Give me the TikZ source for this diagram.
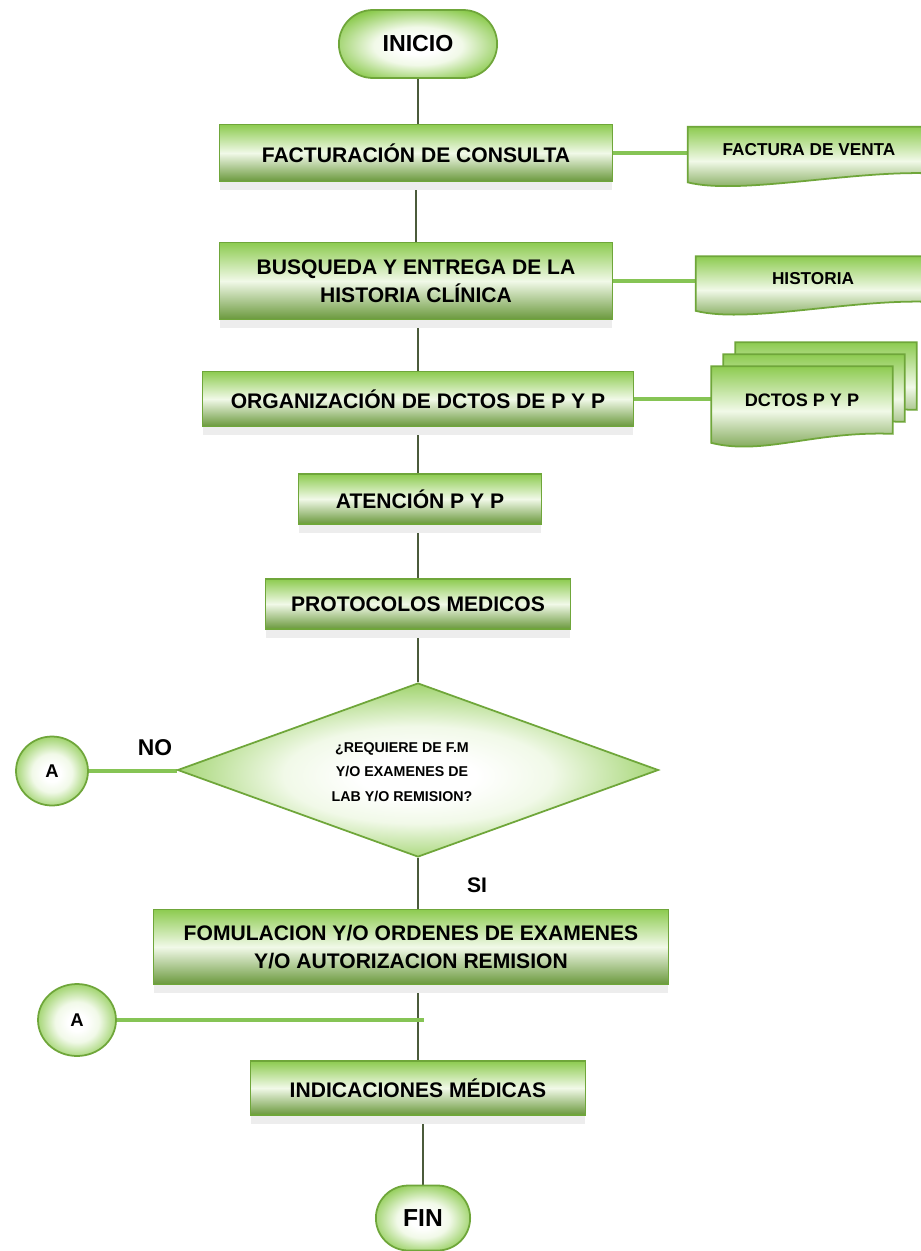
\documentclass[tikz,border=0pt]{standalone}
\usepackage{fontspec}
\setmainfont{Liberation Sans}
\usetikzlibrary{shapes.geometric, shapes.misc, shadows, backgrounds, calc}

\definecolor{verde}{HTML}{8DCB50}
\definecolor{verdePalido}{HTML}{F1F9E8}
\definecolor{verdeBorde}{HTML}{6FA63A}
\definecolor{lineaOscura}{HTML}{4B5B3B}
\definecolor{lineaVerde}{HTML}{86C455}

\pgfdeclareradialshading{brillo}{\pgfpoint{0bp}{-2bp}}{%
  color(0bp)=(white); color(6bp)=(white); color(14bp)=(verdePalido);
  color(22bp)=(verde!60!white); color(29bp)=(verde); color(36bp)=(verde!85!black);
  color(50bp)=(verde!85!black)}

% hoja con borde inferior ondulado, dibujada detras del nodo
\newcommand\hoja[1]{%
  \path[hojafill] (#1.north west) -- (#1.north east) -- (#1.south east)
    .. controls ($(#1.south east)+(-80,-3)$) and ($(#1.south west)+(52,22)$)
    .. ($(#1.south west)+(0,9)$) -- cycle;}

\begin{document}
\begin{tikzpicture}[x=0.02cm, y=-0.02cm,
    caja/.style={rectangle, draw=verdeBorde, line width=1pt,
      top color=verde, bottom color=verde!75!black, middle color=verdePalido,
      align=center, font=\fontsize{12}{16}\selectfont\bfseries,
      drop shadow={shadow xshift=0pt, shadow yshift=-5pt, fill=black!7, opacity=1}},
    terminal/.style={rounded rectangle, draw=verdeBorde, line width=1pt, shading=brillo},
    conector/.style={ellipse, draw=verdeBorde, line width=1pt, shading=brillo,
      font=\fontsize{10.5}{12}\selectfont\bfseries},
    rombo/.style={diamond, draw=verdeBorde, line width=1pt, shading=brillo, inner sep=0pt},
    hojatexto/.style={rectangle, inner sep=0pt, font=\fontsize{9.8}{12}\selectfont\bfseries},
    hojafill/.style={draw=verdeBorde, line width=1pt, top color=verde,
      bottom color=verde!75!black, middle color=verdePalido},
    vlinea/.style={draw=lineaOscura, line width=1pt},
    hlinea/.style={draw=lineaVerde, line width=2pt},
    etiqueta/.style={font=\fontsize{13}{15}\selectfont\bfseries}
  ]
  \useasboundingbox (0,0) rectangle (920,1251);

  % flujo principal
  \node[terminal, minimum width=3.4cm, minimum height=1.36cm,
    font=\fontsize{13.2}{15}\selectfont\bfseries] (inicio) at (418,44) {INICIO};
  \node[caja, minimum width=7.86cm, minimum height=1.14cm] (factura) at (416,153) {FACTURACIÓN DE CONSULTA};
  \node[caja, minimum width=7.86cm, minimum height=1.54cm] (busqueda) at (416,281) {BUSQUEDA Y ENTREGA DE LA\\HISTORIA CLÍNICA};
  \node[caja, minimum width=8.62cm, minimum height=1.1cm] (organiza) at (418,399) {ORGANIZACIÓN DE DCTOS DE P Y P};
  \node[caja, minimum width=4.86cm, minimum height=1.0cm] (atencion) at (420,499) {ATENCIÓN P Y P};
  \node[caja, minimum width=6.1cm, minimum height=1.0cm] (protocolos) at (418,604) {PROTOCOLOS MEDICOS};
  \node[rombo, minimum width=9.62cm, minimum height=3.48cm] (decision) at (418,770) {};
  \node[font=\fontsize{8.1}{13.9}\selectfont\bfseries, align=center] (pregunta) at (402,772)
    {¿REQUIERE DE F.M\\Y/O EXAMENES DE\\LAB Y/O REMISION?};
  \node[caja, minimum width=10.3cm, minimum height=1.5cm] (formula) at (411,947) {FOMULACION Y/O ORDENES DE EXAMENES\\Y/O AUTORIZACION REMISION};
  \node[caja, minimum width=6.7cm, minimum height=1.08cm] (indica) at (418,1088) {INDICACIONES MÉDICAS};
  \node[terminal, minimum width=2.12cm, minimum height=1.3cm,
    font=\fontsize{14}{16}\selectfont\bfseries] (fin) at (423,1218) {FIN};

  % conectores A
  \node[conector, minimum width=1.44cm, minimum height=1.38cm] (conA) at (52,771) {A};
  \node[conector, minimum width=1.56cm, minimum height=1.44cm] (conB) at (77,1020) {A};
  \coordinate (junta) at (424,1020);
  \node[etiqueta] (no) at (155,748) {NO};
  \node[etiqueta, font=\fontsize{12}{14}\selectfont\bfseries] (si) at (477,885) {SI};

  % documentos
  \node[hojatexto, minimum width=4.84cm, minimum height=0.92cm] (fv) at (809,150) {FACTURA DE VENTA};
  \node[hojatexto, minimum width=4.68cm, minimum height=0.9cm] (hist) at (813,279) {HISTORIA};
  \node[hojatexto, minimum width=3.62cm, minimum height=1.34cm] (dctosC) at (826,376) {};
  \node[hojatexto, minimum width=3.62cm, minimum height=1.34cm] (dctosB) at (814,388) {};
  \node[hojatexto, minimum width=3.62cm, minimum height=1.34cm,
    font=\fontsize{10.3}{12}\selectfont\bfseries] (dctos) at (802,400) {DCTOS P Y P};

  \begin{scope}[on background layer]
    \fill[white] (0,0) rectangle (920,1251);
    \draw[vlinea] (inicio.south) -- (inicio.south |- factura.north);
    \draw[vlinea] (factura.south) -- (factura.south |- busqueda.north);
    \draw[vlinea] (organiza.north |- busqueda.south) -- (organiza.north);
    \draw[vlinea] (organiza.south) -- (organiza.south |- atencion.north);
    \draw[vlinea] (protocolos.north |- atencion.south) -- (protocolos.north);
    \draw[vlinea] (decision.north |- protocolos.south) -- (decision.north);
    \draw[vlinea] (decision.south) -- (decision.south |- formula.north);
    \draw[vlinea] (indica.north |- formula.south) -- (indica.north);
    \draw[vlinea] (fin.north |- indica.south) -- (fin.north);
    \draw[hlinea] (factura.east) -- (factura.east -| fv.west);
    \draw[hlinea] (busqueda.east) -- (busqueda.east -| hist.west);
    \draw[hlinea] (organiza.east) -- (organiza.east -| dctos.west);
    \draw[hlinea] (conA.east) -- (conA.east -| decision.west);
    \draw[hlinea] (conB.east) -- (junta);
    \hoja{fv}
    \hoja{hist}
    \hoja{dctosC}
    \hoja{dctosB}
    \hoja{dctos}
  \end{scope}
\end{tikzpicture}
\end{document}
